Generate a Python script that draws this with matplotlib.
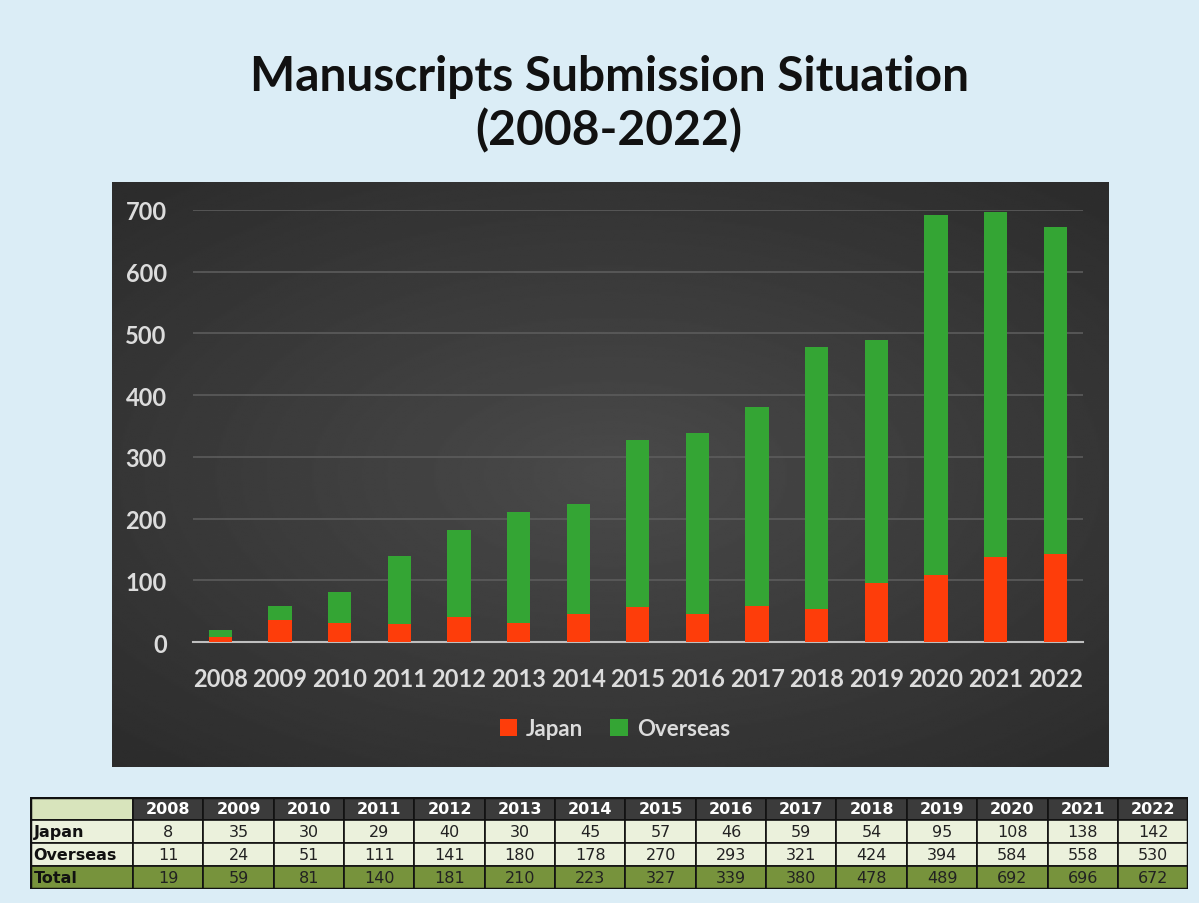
import numpy as np
import matplotlib.pyplot as plt
from matplotlib.patches import Rectangle

years = ["2008", "2009", "2010", "2011", "2012", "2013", "2014", "2015",
         "2016", "2017", "2018", "2019", "2020", "2021", "2022"]
japan = [8, 35, 30, 29, 40, 30, 45, 57, 46, 59, 54, 95, 108, 138, 142]
overseas = [11, 24, 51, 111, 141, 180, 178, 270, 293, 321, 424, 394, 584, 558, 530]
total = [19, 59, 81, 140, 181, 210, 223, 327, 339, 380, 478, 489, 692, 696, 672]
yticks = [0, 100, 200, 300, 400, 500, 600, 700]

RED = "#fe3d0a"
GREEN = "#34a534"
FONT = "Lato"

fig = plt.figure(figsize=(11.99, 9.04), dpi=100)
fig.patch.set_facecolor("#dbedf6")

fig.text(0.508, 0.915, "Manuscripts Submission Situation", ha="center", va="center",
         fontsize=34.5, fontweight="bold", family=FONT, color="#111111")
fig.text(0.508, 0.855, "(2008-2022)", ha="center", va="center",
         fontsize=34.5, fontweight="bold", family=FONT, color="#111111")

# dark panel with a soft radial glow
bg = fig.add_axes([0.0934, 0.1504, 0.8307, 0.647])
yy, xx = np.mgrid[-1:1:300j, -1:1:500j]
glow = np.sqrt(xx ** 2 + (yy / 0.9) ** 2)
bg.imshow(-glow, cmap="gray", vmin=-3.625, vmax=8.875, aspect="auto",
          extent=[0, 1, 0, 1], interpolation="bilinear")
bg.set_xlim(0, 1)
bg.set_ylim(0, 1)
bg.axis("off")

ax = fig.add_axes([0.161, 0.2887, 0.742, 0.478])
ax.set_facecolor("none")
x = np.arange(len(years))
ax.bar(x, japan, width=0.39, color=RED, label="Japan", zorder=3)
ax.bar(x, overseas, width=0.39, bottom=japan, color=GREEN, label="Overseas", zorder=3)
ax.set_xlim(-0.46, 14.46)
ax.set_ylim(0, 700)
ax.set_yticks(yticks)
ax.set_xticks(x)
ax.set_xticklabels(years)
for s in ["top", "right", "left"]:
    ax.spines[s].set_visible(False)
ax.spines["bottom"].set_color("#bfbfbf")
ax.spines["bottom"].set_linewidth(1.5)
ax.grid(axis="y", color="#5c5c5c", linewidth=1.2, zorder=0)
ax.tick_params(length=0, colors="#dcdcdc", labelsize=17, pad=18)
ax.tick_params(axis="y", pad=19)
for lab in ax.get_xticklabels() + ax.get_yticklabels():
    lab.set_family(FONT)
    lab.set_fontweight("bold")
    lab.set_color("#dcdcdc")

leg = ax.legend(loc="center", bbox_to_anchor=(0.474, -0.201), ncol=2, frameon=False,
                handlelength=0.8, handleheight=0.8, handletextpad=0.4, columnspacing=1.2,
                prop={"family": FONT, "weight": "bold", "size": 16})
for t in leg.get_texts():
    t.set_color("#dcdcdc")

# data table below the chart
tab_ax = fig.add_axes([0.025, 0.0155, 0.966, 0.1018])
tab_ax.axis("off")
rows = [[""] + years,
        ["Japan"] + [str(v) for v in japan],
        ["Overseas"] + [str(v) for v in overseas],
        ["Total"] + [str(v) for v in total]]
row_colors = ["#3b3b3b", "#ebf1dc", "#ebf1dc", "#77933c"]
first_w = 0.089
col_w = (1 - first_w) / 15
for r, row in enumerate(rows):
    y0 = 1 - (r + 1) * 0.25
    for c, val in enumerate(row):
        x0 = 0 if c == 0 else first_w + (c - 1) * col_w
        w = first_w if c == 0 else col_w
        fc = row_colors[r]
        if r == 0 and c == 0:
            fc = "#d8e4bc"
        tab_ax.add_patch(Rectangle((x0, y0), w, 0.25, facecolor=fc, edgecolor="#111111",
                                   linewidth=1.2))
        if c == 0:
            tab_ax.text(x0 + 0.003, y0 + 0.125, val, ha="left", va="center", fontsize=11.5,
                        fontweight="bold", family="DejaVu Sans", color="#111111")
        else:
            tab_ax.text(x0 + w / 2, y0 + 0.125, val, ha="center", va="center",
                        fontsize=11.5, family="DejaVu Sans",
                        fontweight="bold" if r == 0 else "normal",
                        color="white" if r == 0 else "#222222")
tab_ax.add_patch(Rectangle((0, 0), 1, 1, fill=False, edgecolor="#111111", linewidth=2.5))
tab_ax.set_xlim(0, 1)
tab_ax.set_ylim(0, 1)

fig.savefig("out.png", dpi=100, facecolor=fig.get_facecolor())
